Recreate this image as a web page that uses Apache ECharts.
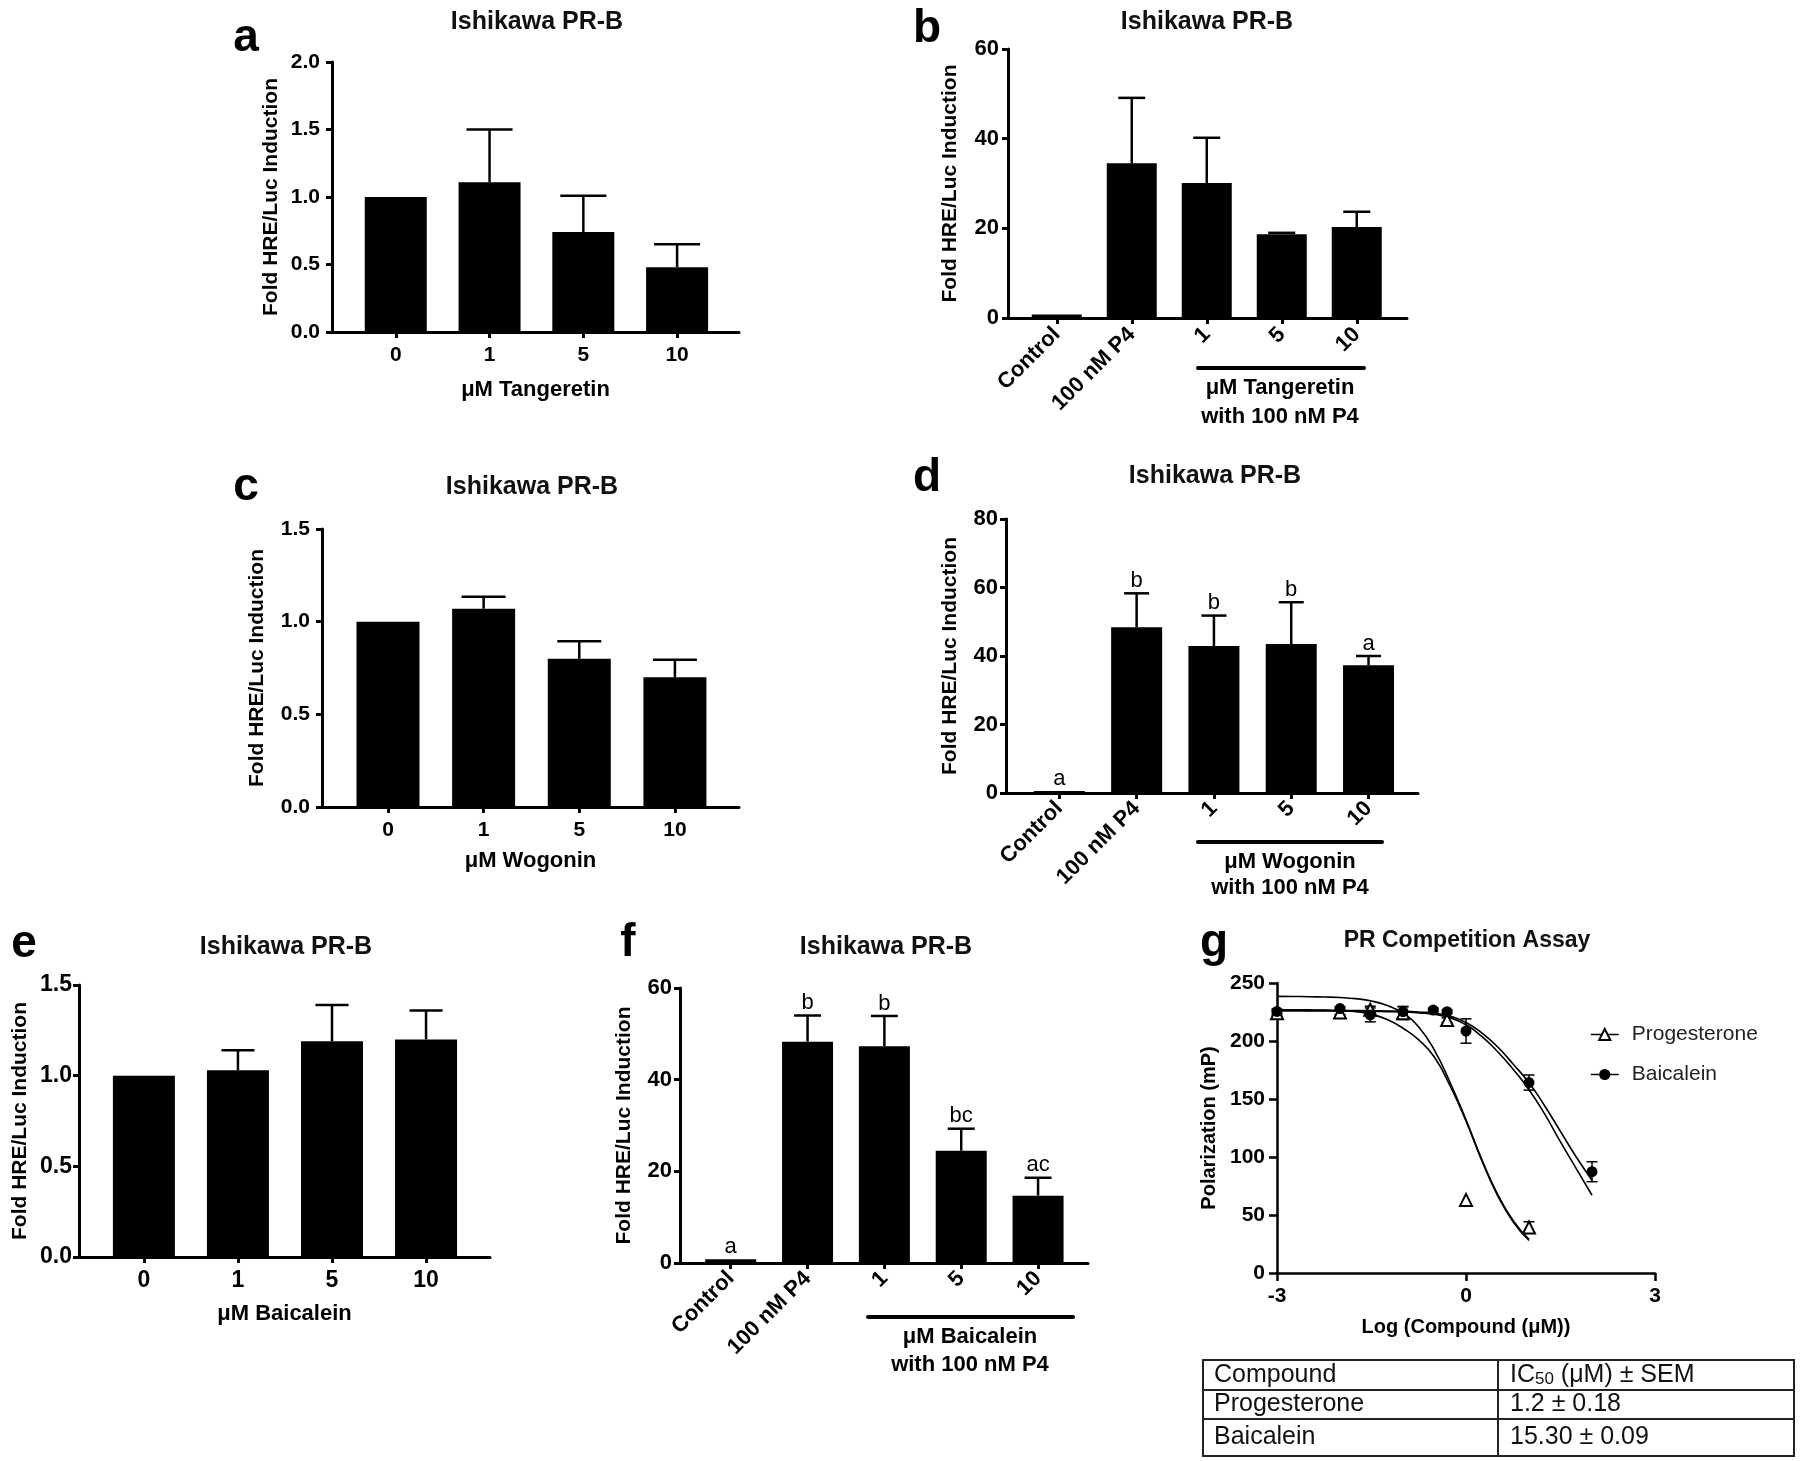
<!DOCTYPE html>
<html>
<head>
<meta charset="utf-8">
<script src="https://cdn.jsdelivr.net/npm/echarts@6/dist/echarts.min.js"></script>
<style>html,body{margin:0;padding:0;background:#fff}#main{width:1800px;height:1461px}</style>
</head>
<body>
<div id="main"></div>
<script>
// ---------------- DATA ----------------
// Panel a: Tangeretin alone
const catsA = ['0', '1', '5', '10'];
const valsA = [1.0, 1.11, 0.74, 0.48];
const semA  = [0, 0.39, 0.27, 0.17];
// Panel b: Tangeretin with P4
const catsB = ['Control', '100 nM P4', '1', '5', '10'];
const valsB = [0.8, 34.5, 30.1, 18.7, 20.3];
const semB  = [0, 14.6, 10.1, 0.3, 3.4];
// Panel c: Wogonin alone
const catsC = ['0', '1', '5', '10'];
const valsC = [1.0, 1.07, 0.80, 0.70];
const semC  = [0, 0.065, 0.095, 0.095];
// Panel d: Wogonin with P4
const catsD = ['Control', '100 nM P4', '1', '5', '10'];
const valsD = [0.6, 48.4, 42.9, 43.5, 37.3];
const semD  = [0, 9.9, 8.9, 12.2, 2.7];
const sigD  = ['a', 'b', 'b', 'b', 'a'];
// Panel e: Baicalein alone
const catsE = ['0', '1', '5', '10'];
const valsE = [1.0, 1.03, 1.19, 1.20];
const semE  = [0, 0.11, 0.20, 0.16];
// Panel f: Baicalein with P4
const catsF = ['Control', '100 nM P4', '1', '5', '10'];
const valsF = [0.8, 48.3, 47.3, 24.5, 14.7];
const semF  = [0, 5.7, 6.6, 4.8, 3.9];
const sigF  = ['a', 'b', 'b', 'bc', 'ac'];
// Panel g: PR competition assay
const logXProg = [-3, -2, -1.52, -1, -0.3, 0, 1];
const polProg  = [224, 224.5, 227, 224, 218, 63, 39.2];
const semProg  = [2, 2, 3, 5.5, 2, 0, 5];
const logXBaic = [-3, -2, -1.52, -1, -0.52, -0.3, 0, 1, 2];
const polBaic  = [225.5, 228, 222.5, 225.3, 226.7, 225.3, 208.6, 164.2, 87.3];
const semBaic  = [2, 1.5, 6, 4.5, 1.5, 1.5, 10.5, 6.5, 8.6];
// fitted curves, every 0.25 log units
const fitXProg = [-3, -2.75, -2.5, -2.25, -2, -1.75, -1.5, -1.25, -1, -0.75, -0.5, -0.25, 0, 0.25, 0.5, 0.75, 1];
const fitProg1 = [238.5, 238.4, 238.2, 237.9, 237.5, 236.5, 234.5, 230.5, 224, 212, 192, 164, 132, 98, 68, 45, 29];
const fitProg2 = [227, 226.9, 226.8, 226.6, 226.2, 225.3, 223, 218.5, 211, 201, 186, 161, 131, 97, 67, 44, 28];
const fitXBaic = [-3, -2.75, -2.5, -2.25, -2, -1.75, -1.5, -1.25, -1, -0.75, -0.5, -0.25, 0, 0.25, 0.5, 0.75, 1, 1.25, 1.5, 1.75, 2];
const fitBaic1 = [226.5, 226.5, 226.4, 226.4, 226.3, 226.2, 226.1, 225.9, 225.6, 225, 224, 221.5, 216, 207, 195, 180, 164, 144, 122, 100, 80];
const fitBaic2 = [226, 226, 225.9, 225.9, 225.8, 225.7, 225.5, 225.3, 225, 224.2, 223, 220, 214, 204, 191, 175.5, 158, 137, 113, 90, 67];
// Table
const tableHead = ['Compound', 'IC50 (μM) ± SEM'];
const tableCompounds = ['Progesterone', 'Baicalein'];
const tableIC50 = ['1.2 ± 0.18', '15.30 ± 0.09'];
// Text
const panelTitles = ['Ishikawa PR-B', 'Ishikawa PR-B', 'Ishikawa PR-B', 'Ishikawa PR-B', 'Ishikawa PR-B', 'Ishikawa PR-B', 'PR Competition Assay'];
const panelLetters = ['a', 'b', 'c', 'd', 'e', 'f', 'g'];
const groupB = ['μM Tangeretin', 'with 100 nM P4'];
const groupD = ['μM Wogonin', 'with 100 nM P4'];
const groupF = ['μM Baicalein', 'with 100 nM P4'];

// ---------------- LAYOUT / STYLE ----------------
const FONT = "'Liberation Sans', Arial, Helvetica, sans-serif";
const panels = [
  {cats: catsA, vals: valsA, sem: semA, sig: null, grid: {left: 332, top: 62, width: 407, height: 270}, xr: [-0.68, 3.66], ymax: 2, yint: 0.5, dec: 1, barW: 62, capW: 46, rot: 0, xname: 'μM Tangeretin', xng: 47, yng: 50, ylm: 12, xlm: 13, tf: 21, title: [537, 24], letter: [246, 38]},
  {cats: catsB, vals: valsB, sem: semB, sig: null, grid: {left: 1008, top: 49, width: 399, height: 269}, xr: [-0.65, 4.67], ymax: 60, yint: 20, dec: 0, barW: 50, capW: 27, rot: 45, xname: '', yng: 47, ylm: 9, xlm: 13, tf: 22, title: [1207, 24], letter: [927, 29]},
  {cats: catsC, vals: valsC, sem: semC, sig: null, grid: {left: 322, top: 529, width: 417, height: 278}, xr: [-0.69, 3.67], ymax: 1.5, yint: 0.5, dec: 1, barW: 63, capW: 44, rot: 0, xname: 'μM Wogonin', xng: 43, yng: 54, ylm: 12, xlm: 13, tf: 21, title: [532, 489], letter: [246, 487]},
  {cats: catsD, vals: valsD, sem: semD, sig: sigD, grid: {left: 1006, top: 519, width: 412, height: 274}, xr: [-0.69, 4.64], ymax: 80, yint: 20, dec: 0, barW: 51, capW: 25, rot: 45, xname: '', yng: 45, ylm: 8, xlm: 12, tf: 22, title: [1215, 478], letter: [927, 478]},
  {cats: catsE, vals: valsE, sem: semE, sig: null, grid: {left: 79, top: 985, width: 411, height: 272}, xr: [-0.69, 3.68], ymax: 1.5, yint: 0.5, dec: 1, barW: 62, capW: 33, rot: 0, xname: 'μM Baicalein', xng: 46, yng: 48, ylm: 7, xlm: 12, tf: 23, title: [286, 949], letter: [24, 944]},
  {cats: catsF, vals: valsF, sem: semF, sig: sigF, grid: {left: 680, top: 988, width: 408, height: 275}, xr: [-0.66, 4.65], ymax: 60, yint: 20, dec: 0, barW: 51, capW: 27, rot: 45, xname: '', yng: 45, ylm: 8, xlm: 12, tf: 22, title: [886, 949], letter: [628, 943]}
];
const gLayout = {grid: {left: 1277, top: 983, width: 378, height: 290}, title: [1467, 942], letter: [1214, 943]};
const brackets = [
  {labels: groupB, x1: 1198, x2: 1364, y: 368, cx: 1280, ty: [388, 417]},
  {labels: groupD, x1: 1198, x2: 1382, y: 842, cx: 1290, ty: [862, 888]},
  {labels: groupF, x1: 868, x2: 1073, y: 1317, cx: 970, ty: [1337, 1365]}
];
const tbl = {x: 1203, w: 591, col: 1498, rows: [1360, 1390, 1419, 1456]};

function errBarSeries(k, vals, sem, capW, lw, sig) {
  return {
    type: 'custom', xAxisIndex: k, yAxisIndex: k, z: 5, silent: true,
    data: vals.map((v, i) => [i, v, sem[i]]),
    renderItem: function (params, api) {
      const x = api.value(0), v = api.value(1), e = api.value(2);
      const p0 = api.coord([x, v]);
      const p1 = api.coord([x, v + e]);
      const ch = [];
      if (e > 0) {
        ch.push({type: 'line', shape: {x1: p0[0], y1: p0[1], x2: p1[0], y2: p1[1]}, style: {stroke: '#000', lineWidth: lw}});
        ch.push({type: 'line', shape: {x1: p1[0] - capW / 2, y1: p1[1], x2: p1[0] + capW / 2, y2: p1[1]}, style: {stroke: '#000', lineWidth: lw}});
      }
      if (sig) {
        ch.push({type: 'text', x: p1[0], y: p1[1] - 1.5, style: {text: sig[params.dataIndex], fill: '#000', font: '22px ' + FONT, textAlign: 'center', textVerticalAlign: 'bottom'}});
      }
      return {type: 'group', children: ch};
    }
  };
}
function symErrSeries(k, xs, ys, sem) {
  return {
    type: 'custom', xAxisIndex: k, yAxisIndex: k, z: 4, silent: true,
    data: xs.map((x, i) => [x, ys[i], sem[i]]),
    renderItem: function (params, api) {
      const x = api.value(0), v = api.value(1), e = api.value(2);
      const lo = api.coord([x, v - e]);
      const hi = api.coord([x, v + e]);
      const s = {stroke: '#000', lineWidth: 1.5};
      if (!(e > 0)) return {type: 'group', children: []};
      return {type: 'group', children: [
        {type: 'line', shape: {x1: lo[0], y1: lo[1], x2: hi[0], y2: hi[1]}, style: s},
        {type: 'line', shape: {x1: hi[0] - 5.5, y1: hi[1], x2: hi[0] + 5.5, y2: hi[1]}, style: s},
        {type: 'line', shape: {x1: lo[0] - 5.5, y1: lo[1], x2: lo[0] + 5.5, y2: lo[1]}, style: s}
      ]};
    }
  };
}

const option = {
  animation: false,
  backgroundColor: '#fff',
  title: [], grid: [], xAxis: [], yAxis: [], series: [], graphic: []
};
const titleStyle = {fontSize: 25, fontWeight: 'bold', fontFamily: FONT, color: '#111'};
const boldTxt = (size) => ({fontSize: size, fontWeight: 'bold', fontFamily: FONT, color: '#000'});

panels.forEach((p, k) => {
  const idx = p.cats.map((c, i) => i);
  option.grid.push(Object.assign({outerBoundsMode: 'none', containLabel: false}, p.grid));
  option.xAxis.push({
    type: 'value', gridIndex: k, min: p.xr[0], max: p.xr[1],
    splitLine: {show: false},
    axisLine: {show: true, onZero: false, lineStyle: {color: '#000', width: 3}},
    axisTick: {show: true, customValues: idx, length: 6, lineStyle: {color: '#000', width: 3}},
    axisLabel: Object.assign({customValues: idx, rotate: p.rot, margin: p.xlm, formatter: (v) => p.cats[Math.round(v)]}, boldTxt(p.tf)),
    name: p.xname, nameLocation: 'middle', nameGap: p.xng || 40, nameTextStyle: boldTxt(22)
  });
  option.yAxis.push({
    type: 'value', gridIndex: k, min: 0, max: p.ymax, interval: p.yint,
    splitLine: {show: false},
    axisLine: {show: true, onZero: false, lineStyle: {color: '#000', width: 3}},
    axisTick: {show: true, length: 6, lineStyle: {color: '#000', width: 3}},
    axisLabel: Object.assign({margin: p.ylm, formatter: (v) => p.dec ? v.toFixed(p.dec) : String(v)}, boldTxt(p.tf)),
    name: 'Fold HRE/Luc Induction', nameLocation: 'middle', nameGap: p.yng, nameTextStyle: boldTxt(21)
  });
  option.series.push({
    type: 'bar', xAxisIndex: k, yAxisIndex: k, barWidth: p.barW, silent: true,
    itemStyle: {color: '#000'},
    data: p.vals.map((v, i) => [i, v])
  });
  option.series.push(errBarSeries(k, p.vals, p.sem, p.capW, 2.5, p.sig));
  option.title.push({text: panelTitles[k], left: p.title[0], top: p.title[1] - 14, textAlign: 'center', padding: 0, textStyle: titleStyle});
  option.graphic.push({type: 'text', x: p.letter[0], y: p.letter[1], style: {text: panelLetters[k], font: 'bold 46px ' + FONT, fill: '#000', textAlign: 'center', textVerticalAlign: 'middle'}});
});

// Panel g
const G = 6;
option.grid.push(Object.assign({outerBoundsMode: 'none', containLabel: false}, gLayout.grid));
option.xAxis.push({
  type: 'value', gridIndex: G, min: -3, max: 3, interval: 3,
  splitLine: {show: false},
  axisLine: {show: true, onZero: false, lineStyle: {color: '#000', width: 2.5}},
  axisTick: {show: true, length: 8, lineStyle: {color: '#000', width: 2.5}},
  axisLabel: Object.assign({margin: 13}, boldTxt(21)),
  name: 'Log (Compound (μM))', nameLocation: 'middle', nameGap: 44, nameTextStyle: boldTxt(20)
});
option.yAxis.push({
  type: 'value', gridIndex: G, min: 0, max: 250, interval: 50,
  splitLine: {show: false},
  axisLine: {show: true, onZero: false, lineStyle: {color: '#000', width: 2.5}},
  axisTick: {show: true, length: 8, lineStyle: {color: '#000', width: 2.5}},
  axisLabel: Object.assign({margin: 12}, boldTxt(21)),
  name: 'Polarization (mP)', nameLocation: 'middle', nameGap: 58, nameTextStyle: boldTxt(20)
});
const fitLine = (xs, ys) => ({
  type: 'line', xAxisIndex: G, yAxisIndex: G, symbol: 'none', smooth: 0.5, silent: true, z: 2,
  lineStyle: {color: '#000', width: 1.6},
  data: xs.map((x, i) => [x, ys[i]])
});
option.series.push(fitLine(fitXProg, fitProg1));
option.series.push(fitLine(fitXProg, fitProg2));
option.series.push(fitLine(fitXBaic, fitBaic1));
option.series.push(fitLine(fitXBaic, fitBaic2));
option.series.push(symErrSeries(G, logXProg, polProg, semProg));
option.series.push(symErrSeries(G, logXBaic, polBaic, semBaic));
option.series.push({
  name: 'Progesterone', type: 'line', xAxisIndex: G, yAxisIndex: G, z: 6, silent: true,
  symbol: 'triangle', symbolSize: 12, showSymbol: true,
  itemStyle: {color: '#fff', borderColor: '#000', borderWidth: 2},
  lineStyle: {opacity: 0, color: '#000'},
  data: logXProg.map((x, i) => [x, polProg[i]])
});
option.series.push({
  name: 'Baicalein', type: 'line', xAxisIndex: G, yAxisIndex: G, z: 6, silent: true,
  symbol: 'circle', symbolSize: 11, showSymbol: true,
  itemStyle: {color: '#000', borderColor: '#000', borderWidth: 0},
  lineStyle: {opacity: 0, color: '#000'},
  data: logXBaic.map((x, i) => [x, polBaic[i]])
});
option.legend = {
  data: ['Progesterone', 'Baicalein'], orient: 'vertical', left: 1590, top: 1024,
  itemWidth: 28, itemHeight: 14, itemGap: 19, padding: 0, selectedMode: false,
  lineStyle: {opacity: 1, width: 1.5, color: '#000'},
  textStyle: {fontSize: 21, fontFamily: FONT, color: '#222', padding: [0, 0, 0, 8]}
};
option.title.push({text: panelTitles[G], left: gLayout.title[0], top: gLayout.title[1] - 13, textAlign: 'center', padding: 0, textStyle: Object.assign({}, titleStyle, {fontSize: 23})});
option.graphic.push({type: 'text', x: gLayout.letter[0], y: gLayout.letter[1], style: {text: panelLetters[G], font: 'bold 46px ' + FONT, fill: '#000', textAlign: 'center', textVerticalAlign: 'middle'}});

// Group brackets (b, d, f)
brackets.forEach((b) => {
  option.graphic.push({type: 'line', shape: {x1: b.x1, y1: b.y, x2: b.x2, y2: b.y}, style: {stroke: '#000', lineWidth: 4, lineCap: 'round'}});
  b.labels.forEach((t, j) => {
    option.graphic.push({type: 'text', x: b.cx, y: b.ty[j], style: {text: t, font: 'bold 22px ' + FONT, fill: '#000', textAlign: 'center', textVerticalAlign: 'middle'}});
  });
});

// IC50 table
(function () {
  const r = tbl.rows;
  option.graphic.push({type: 'rect', shape: {x: tbl.x, y: r[0], width: tbl.w, height: r[3] - r[0]}, style: {fill: 'none', stroke: '#222', lineWidth: 2}});
  option.graphic.push({type: 'line', shape: {x1: tbl.x, y1: r[1], x2: tbl.x + tbl.w, y2: r[1]}, style: {stroke: '#222', lineWidth: 2}});
  option.graphic.push({type: 'line', shape: {x1: tbl.x, y1: r[2], x2: tbl.x + tbl.w, y2: r[2]}, style: {stroke: '#222', lineWidth: 2}});
  option.graphic.push({type: 'line', shape: {x1: tbl.col, y1: r[0], x2: tbl.col, y2: r[3]}, style: {stroke: '#222', lineWidth: 2}});
  const txt = (x, y, t) => ({type: 'text', x: x, y: y, style: {text: t, font: '25px ' + FONT, fill: '#111', textAlign: 'left', textVerticalAlign: 'middle'}});
  option.graphic.push(txt(tbl.x + 11, (r[0] + r[1]) / 2, tableHead[0]));
  const hp = tableHead[1].split('50');
  option.graphic.push({type: 'text', x: tbl.col + 12, y: (r[0] + r[1]) / 2, style: {
    text: '{n|' + hp[0] + '}{s|50}{n|' + hp[1] + '}', textAlign: 'left', textVerticalAlign: 'middle', fill: '#111',
    rich: {n: {font: '25px ' + FONT, fill: '#111'}, s: {font: '17px ' + FONT, fill: '#111', verticalAlign: 'bottom'}}
  }});
  tableCompounds.forEach((c, i) => {
    option.graphic.push(txt(tbl.x + 11, (r[i + 1] + r[i + 2]) / 2, c));
    option.graphic.push(txt(tbl.col + 12, (r[i + 1] + r[i + 2]) / 2, tableIC50[i]));
  });
})();

const chart = echarts.init(document.getElementById('main'), null, {renderer: 'canvas'});
chart.setOption(option);
</script>
</body>
</html>
